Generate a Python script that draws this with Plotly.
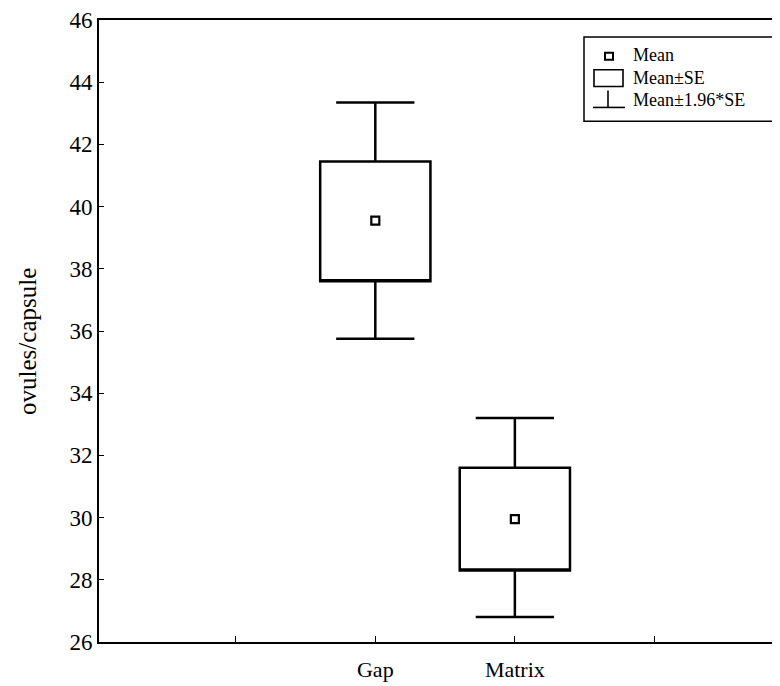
import plotly.graph_objects as go

# ---- data ----
categories = ["Gap", "Matrix"]
cat_pos = [1, 2]
means = [39.55, 29.95]
se_low = [37.6, 28.3]
se_high = [41.45, 31.6]
ci_low = [35.75, 26.8]
ci_high = [43.35, 33.2]

tick_vals = [0, 1, 2, 3]
tick_text = ["", "Gap", "Matrix", ""]
y_ticks = list(range(26, 47, 2))

FONT = "Liberation Serif"
OFF = 8  # default page body margin in the written html
W, H = 780 - OFF, 686 - OFF
L, R, T, B = 99 - OFF, 0, 16 - OFF, 44

fig = go.Figure()

for i, c in enumerate(categories):
    fig.add_trace(go.Box(
        x=[cat_pos[i]], q1=[se_low[i]], q3=[se_high[i]], median=[se_low[i]],
        lowerfence=[ci_low[i]], upperfence=[ci_high[i]],
        width=0.79, whiskerwidth=0.71,
        fillcolor="rgba(0,0,0,0)", line=dict(color="black", width=2.5),
        boxpoints=False, showlegend=False, hoverinfo="skip", name=c,
    ))

fig.add_trace(go.Scatter(
    x=cat_pos, y=means, mode="markers",
    marker=dict(symbol="square-open", size=8, color="black", line=dict(width=2.2, color="black")),
    showlegend=False, hoverinfo="skip",
))

# ---- custom legend; helpers map absolute page pixels to paper coords ----
pw, ph = W - L - R, H - T - B
def px(x):
    return (x - OFF - L) / pw
def py(y):
    return (H - B - (y - OFF)) / ph

shapes = [
    dict(type="rect", xref="paper", yref="paper", x0=px(584), x1=px(777), y0=py(118), y1=py(33),
         line=dict(color="black", width=1.5), fillcolor="white", layer="above"),
    dict(type="rect", xref="paper", yref="paper", x0=px(605), x1=px(613), y0=py(56), y1=py(49),
         line=dict(color="black", width=2), layer="above"),
    dict(type="rect", xref="paper", yref="paper", x0=px(594), x1=px(623), y0=py(83), y1=py(66),
         line=dict(color="black", width=1.6), layer="above"),
    dict(type="line", xref="paper", yref="paper", x0=px(608), x1=px(608), y0=py(104), y1=py(87),
         line=dict(color="black", width=1.6), layer="above"),
    dict(type="line", xref="paper", yref="paper", x0=px(593), x1=px(625), y0=py(104), y1=py(104),
         line=dict(color="black", width=1.6), layer="above"),
]
leg_items = [("Mean", 51), ("Mean±SE", 74), ("Mean±1.96*SE", 97)]
annotations = [
    dict(text=t, xref="paper", yref="paper", x=px(631), y=py(yy), xanchor="left", yanchor="middle",
         showarrow=False, font=dict(family=FONT, size=18, color="black"))
    for t, yy in leg_items
]
annotations.append(dict(
    text="ovules/capsule", xref="paper", yref="paper", x=px(28), y=py(340), textangle=-90,
    xanchor="center", yanchor="middle", showarrow=False,
    font=dict(family=FONT, size=25, color="black"),
))

fig.update_layout(
    width=W, height=H,
    margin=dict(l=L, r=R, t=T, b=B, pad=0),
    paper_bgcolor="white", plot_bgcolor="white",
    showlegend=False,
    shapes=shapes, annotations=annotations,
    font=dict(family=FONT, color="black"),
)
fig.update_xaxes(
    range=[-0.98, 3.9], tickmode="array", tickvals=tick_vals, ticktext=tick_text,
    showgrid=False, zeroline=False, showline=True, mirror=True, linecolor="black", linewidth=2,
    ticks="inside", ticklen=6, tickcolor="black", tickwidth=1,
    tickfont=dict(family=FONT, size=22, color="black"), ticklabelstandoff=7,
)
fig.update_yaxes(
    range=[26, 46], tickmode="array", tickvals=y_ticks,
    showgrid=False, zeroline=False, showline=True, linecolor="black", linewidth=2,
    ticks="inside", ticklen=5, tickcolor="black", tickwidth=1,
    tickfont=dict(family=FONT, size=23, color="black"), ticklabeloverflow="allow",
)

fig.write_html("out.html")
